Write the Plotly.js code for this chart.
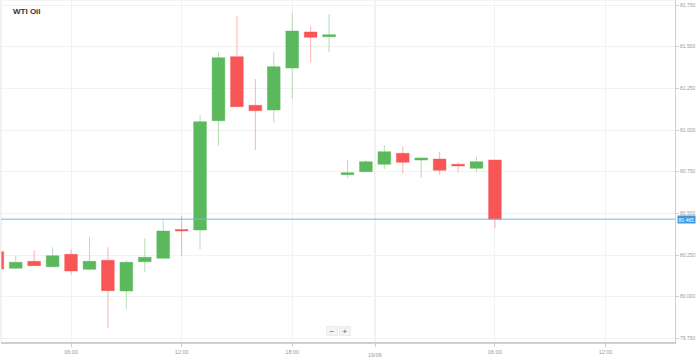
<!DOCTYPE html>
<html>
<head>
<meta charset="utf-8">
<script src="https://cdn.plot.ly/plotly-3.0.1.min.js"></script>
<style>html,body{margin:0;padding:0;background:#fff;}#chart{width:698px;height:360px;}</style>
</head>
<body>
<div id="chart"></div>
<script>
// Hourly candles (index 0 = 02:00 on 18/06); one-hour break after 20:00
var hours = ['02:00','03:00','04:00','05:00','06:00','07:00','08:00','09:00','10:00','11:00',
             '12:00','13:00','14:00','15:00','16:00','17:00','18:00','19:00','20:00',
             '22:00','23:00','00:00','01:00','02:00','03:00','04:00','05:00','06:00'];
var openP  = [80.270,80.170,80.212,80.180,80.254,80.164,80.218,80.034,80.210,80.230,
              80.403,80.400,81.056,81.440,81.148,81.120,81.372,81.588,81.560,
              80.732,80.750,80.794,80.860,80.820,80.826,80.794,80.770,80.820];
var highP  = [80.275,80.246,80.278,80.296,80.284,80.356,80.296,80.218,80.350,80.456,
              80.486,81.090,81.466,81.686,81.306,81.466,81.704,81.624,81.696,
              80.820,80.820,80.910,80.900,80.832,80.870,80.806,80.840,80.820];
var lowP   = [80.160,80.170,80.186,80.176,80.134,80.158,79.810,79.924,80.146,80.230,
              80.246,80.284,80.906,81.136,80.880,81.046,81.186,81.406,81.466,
              80.714,80.746,80.766,80.740,80.714,80.730,80.744,80.750,80.410];
var closeP = [80.166,80.206,80.186,80.246,80.154,80.212,80.036,80.206,80.236,80.394,
              80.394,81.050,81.434,81.140,81.116,81.380,81.594,81.556,81.572,
              80.744,80.810,80.870,80.806,80.832,80.758,80.784,80.810,80.465];
var currentPrice = 80.465;
var xTickPos  = [4, 10, 16, 20.5, 27, 33];
var xTickText = ['06:00','12:00','18:00','','06:00','12:00'];
var dayLabel = '19/06';
var dayPos = 20.5;
var yTicks = [79.75, 80.00, 80.25, 80.50, 80.75, 81.00, 81.25, 81.50, 81.75];

var idx = hours.map(function(h, i){ return i; });

var trace = {
  type: 'candlestick',
  x: idx, open: openP, high: highP, low: lowP, close: closeP,
  increasing: {fillcolor: '#5cb85c', line: {color: 'rgba(92,184,92,0.45)', width: 1}},
  decreasing: {fillcolor: '#f85656', line: {color: 'rgba(248,86,86,0.45)', width: 1}},
  whiskerwidth: 0,
  hoverinfo: 'skip',
  showlegend: false
};

var layout = {
  width: 698, height: 360,
  margin: {l: 1, r: 23, t: 0, b: 18},
  paper_bgcolor: '#ffffff', plot_bgcolor: '#ffffff',
  font: {family: 'Arial, "Liberation Sans", sans-serif', color: '#999'},
  boxgap: 0.31, boxgroupgap: 0,
  showlegend: false,
  xaxis: {
    type: 'linear', range: [0.2, 36.77],
    tickmode: 'array', tickvals: xTickPos, ticktext: xTickText,
    showgrid: true, gridcolor: '#f2f2f2', gridwidth: 1,
    showline: true, linecolor: '#cfcfcf', linewidth: 2,
    ticks: 'outside', ticklen: 3, tickcolor: '#cfcfcf',
    tickfont: {size: 5.5, color: '#999'},
    zeroline: false, fixedrange: true,
    rangeslider: {visible: false}
  },
  yaxis: {
    side: 'right', range: [79.728, 81.780],
    tickmode: 'array', tickvals: yTicks,
    ticktext: yTicks.map(function(v){ return v.toFixed(3); }),
    showgrid: true, gridcolor: '#f2f2f2', gridwidth: 1,
    showline: true, linecolor: '#cfcfcf', linewidth: 1,
    ticks: 'outside', ticklen: 3, tickcolor: '#cfcfcf',
    tickfont: {size: 5, color: '#999'},
    zeroline: false, fixedrange: true
  },
  shapes: [
    {type: 'line', xref: 'paper', yref: 'paper', x0: 0, x1: 0, y0: 0, y1: 1,
     line: {color: '#e6e6e6', width: 1}},
    {type: 'line', xref: 'paper', yref: 'paper', x0: 0, x1: 1, y0: 1, y1: 1,
     line: {color: '#ececec', width: 1}},
    {type: 'line', xref: 'x', yref: 'paper', x0: dayPos, x1: dayPos, y0: 0, y1: 1,
     line: {color: '#dcdcdc', width: 1}, layer: 'below'},
    {type: 'line', xref: 'paper', yref: 'y', x0: 0, x1: 1, y0: currentPrice, y1: currentPrice,
     line: {color: '#72b6ea', width: 1}}
  ],
  annotations: [
    {text: '<b>WTI Oil</b>', xref: 'paper', yref: 'paper', x: 0, y: 1,
     xanchor: 'left', yanchor: 'top', xshift: 10, yshift: -5, showarrow: false,
     font: {size: 8, color: '#333', family: 'Arial, "Liberation Sans", sans-serif'}},
    {text: dayLabel, xref: 'x', yref: 'paper', x: dayPos, y: 0,
     xanchor: 'center', yanchor: 'top', yshift: -8, showarrow: false,
     font: {size: 5.5, color: '#999'}},
    {text: currentPrice.toFixed(3), xref: 'paper', yref: 'y', x: 1, y: currentPrice,
     xanchor: 'left', yanchor: 'middle', xshift: 2, showarrow: false,
     bgcolor: '#3d9ae0', borderpad: 0.5, font: {size: 5, color: '#ffffff'}},
    {text: '−', xref: 'paper', yref: 'paper', x: 0.4918, y: 0.032,
     xanchor: 'center', yanchor: 'middle', showarrow: false, width: 10, height: 8,
     bgcolor: '#f3f3f3', bordercolor: '#ececec', borderwidth: 1, borderpad: 0,
     font: {size: 8, color: '#555'}},
    {text: '+', xref: 'paper', yref: 'paper', x: 0.5100, y: 0.032,
     xanchor: 'center', yanchor: 'middle', showarrow: false, width: 10, height: 8,
     bgcolor: '#f3f3f3', bordercolor: '#ececec', borderwidth: 1, borderpad: 0,
     font: {size: 8, color: '#555'}}
  ]
};

Plotly.newPlot('chart', [trace], layout, {displayModeBar: false, staticPlot: true});
</script>
</body>
</html>
